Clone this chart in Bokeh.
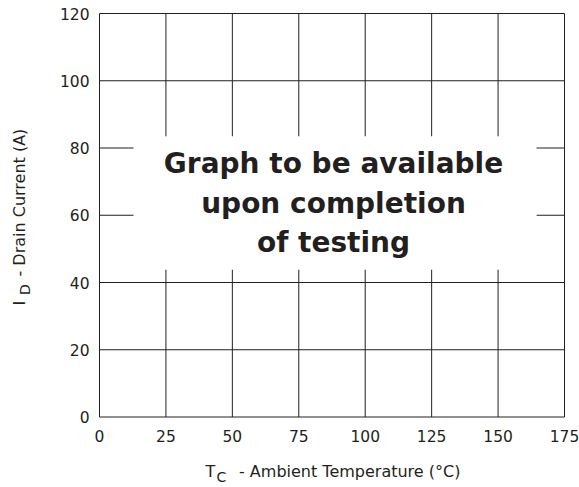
import math
from bokeh.plotting import figure
from bokeh.models import Label, FixedTicker, Range1d, LinearAxis
from bokeh.embed import file_html
from bokeh.resources import INLINE

# ---- data / text ----
x_ticks = [0, 25, 50, 75, 100, 125, 150, 175]
y_ticks = [0, 20, 40, 60, 80, 100, 120]
x_title_main, x_title_sub, x_title_rest = "T", "C", "- Ambient Temperature (°C)"
y_title_main, y_title_sub, y_title_rest = "I", "D", "- Drain Current (A)"
message_lines = ["Graph to be available", "upon completion", "of testing"]
# region (data units) blanked behind the placeholder message
mask_x = [12.8, 164.5]
mask_y = [43.8, 83.5]

INK = "#231f20"
FONT = "DejaVu Sans"

# ---- geometry (pixels) ----
W, H = 579, 487
BOX_L, BOX_R, BOX_T, BOX_B = 99.0, 564.0, 13.0, 416.5
kx = (BOX_R - BOX_L) / (x_ticks[-1] - x_ticks[0])
ky = (BOX_B - BOX_T) / (y_ticks[-1] - y_ticks[0])
xr = Range1d(x_ticks[0] - BOX_L / kx, x_ticks[-1] + (W - BOX_R) / kx)
yr = Range1d(y_ticks[0] - (H - BOX_B) / ky, y_ticks[-1] + BOX_T / ky)

p = figure(width=W, height=H, x_range=xr, y_range=yr,
           output_backend="svg", toolbar_location=None,
           x_axis_location=None, y_axis_location=None,
           min_border=0, min_border_left=0, min_border_right=0,
           min_border_top=0, min_border_bottom=0)
p.background_fill_color = "white"
p.border_fill_color = "white"
p.outline_line_color = None
p.xgrid.visible = False
p.ygrid.visible = False

# grid + box drawn from tick arrays
n_x, n_y = len(x_ticks), len(y_ticks)
p.segment(x0=x_ticks, x1=x_ticks, y0=[y_ticks[0]] * n_x, y1=[y_ticks[-1]] * n_x,
          line_color=INK, line_width=1)
p.segment(x0=[x_ticks[0]] * n_y, x1=[x_ticks[-1]] * n_y, y0=y_ticks, y1=y_ticks,
          line_color=INK, line_width=1)

# blank area behind message
p.quad(left=[mask_x[0]], right=[mask_x[1]], bottom=[mask_y[0]], top=[mask_y[1]],
       fill_color="white", line_color=None)

# axes fixed at the box edges
xaxis = LinearAxis(fixed_location=y_ticks[0], ticker=FixedTicker(ticks=x_ticks))
yaxis = LinearAxis(fixed_location=x_ticks[0], ticker=FixedTicker(ticks=y_ticks))
for ax in (xaxis, yaxis):
    ax.axis_line_color = None
    ax.major_tick_line_color = None
    ax.minor_tick_line_color = None
    ax.major_tick_out = 0
    ax.minor_tick_out = 0
    ax.major_tick_in = 0
    ax.minor_tick_in = 0
    ax.major_label_text_font = FONT
    ax.major_label_text_font_size = "15.5px"
    ax.major_label_text_color = INK
xaxis.major_label_standoff = 13
yaxis.major_label_standoff = 10
p.add_layout(xaxis, "below")
p.add_layout(yaxis, "left")

# empirical correction: rendered alphabetic baseline sits lower than the anchor
SHIFT = 0.38

def sy(y_img):
    return H - y_img

for txt, yb in zip(message_lines, [173.3, 213.3, 252.7]):
    p.add_layout(Label(x=333, y=sy(yb - SHIFT * 28), x_units="screen", y_units="screen",
                       text=txt, text_align="center", text_baseline="alphabetic",
                       text_font=FONT, text_font_style="bold",
                       text_font_size="28px", text_color=INK))

def lab(x, y_img, t, size):
    p.add_layout(Label(x=x, y=sy(y_img - SHIFT * size), x_units="screen", y_units="screen",
                       text=t, text_align="left", text_baseline="alphabetic",
                       text_font=FONT, text_font_size=f"{size}px", text_color=INK))

def vlab(x_img, y_img, t, size):
    p.add_layout(Label(x=x_img - SHIFT * size, y=sy(y_img), x_units="screen", y_units="screen",
                       text=t, angle=math.pi / 2, text_align="left",
                       text_baseline="alphabetic",
                       text_font=FONT, text_font_size=f"{size}px", text_color=INK))

# x axis title
lab(205, 477.3, x_title_main, 16)
lab(216, 482.0, x_title_sub, 14)
lab(238.5, 477.3, x_title_rest, 16)

# y axis title (rotated)
vlab(25, 305, y_title_main, 16)
vlab(30, 294.5, y_title_sub, 14)
vlab(25, 276, y_title_rest, 16)

open("out.html", "w").write(file_html(p, INLINE))
